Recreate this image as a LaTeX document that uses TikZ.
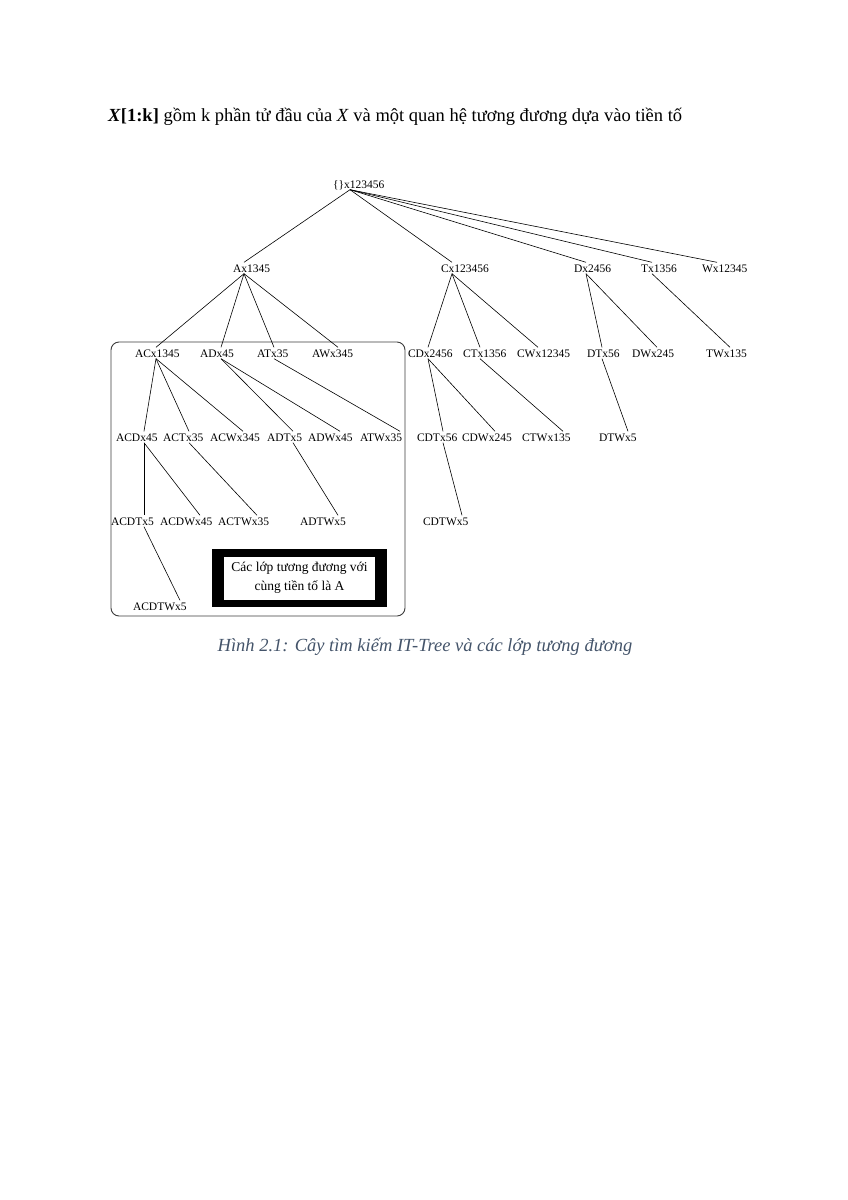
\documentclass[tikz,border=0pt]{standalone}
\usepackage{fontspec}
\setmainfont{Liberation Serif}
\definecolor{capblue}{RGB}{68,84,106}
\definecolor{framegray}{RGB}{60,60,60}
\newcommand\tlab[2]{\makebox[0pt][l]{\hspace*{-#1pt}#2}}
\tikzset{
  tn/.style={inner sep=0pt, text height=9.5pt, text depth=1.5pt, anchor=base,
    font=\fontsize{11.5}{13}\selectfont},
  edge/.style={draw=black, line width=0.6pt},
}
\begin{document}
\begin{tikzpicture}[x=1pt,y=-1pt]
\useasboundingbox[fill=white] (0,0) rectangle (848,1200);

% heading
\node[anchor=base west, inner sep=0pt, font=\fontsize{18.5}{21}\selectfont] (head) at (108,121)
  {\textbf{\textit{X}[1:k]} gồm k phần tử đầu của \textit{X} và một quan hệ tương đương dựa vào tiền tố};

% frame of class A
\draw[framegray, line width=0.9pt, rounded corners=8pt] (111,342) rectangle (405,616);

% root
\node[tn] (r) at (350,188) {\tlab{17}{\{\}x123456}};
% level 1
\node[tn] (A) at (244,272) {\tlab{11}{Ax1345}};
\node[tn] (C) at (452,272) {\tlab{11}{Cx123456}};
\node[tn] (D) at (586,272) {\tlab{12}{Dx2456}};
\node[tn] (T) at (652,272) {\tlab{11}{Tx1356}};
\node[tn] (W) at (717,272) {\tlab{15}{Wx12345}};
% level 2
\node[tn] (AC) at (156,357) {\tlab{21}{ACx1345}};
\node[tn] (AD) at (221,357) {\tlab{21}{ADx45}};
\node[tn] (AT) at (274,357) {\tlab{17}{ATx35}};
\node[tn] (AW) at (338,357) {\tlab{26}{AWx345}};
\node[tn] (CD) at (428,357) {\tlab{20}{CDx2456}};
\node[tn] (CT) at (480,357) {\tlab{17}{CTx1356}};
\node[tn] (CW) at (538,357) {\tlab{21}{CWx12345}};
\node[tn] (DT) at (602,357) {\tlab{15}{DTx56}};
\node[tn] (DW) at (657,357) {\tlab{25}{DWx245}};
\node[tn] (TW) at (730,357) {\tlab{24}{TWx135}};
% level 3
\node[tn] (ACD) at (144,441) {\tlab{28}{ACDx45}};
\node[tn] (ACT) at (189,441) {\tlab{26}{ACTx35}};
\node[tn] (ACW) at (243,441) {\tlab{33}{ACWx345}};
\node[tn] (ADT) at (293,441) {\tlab{26}{ADTx5}};
\node[tn] (ADW) at (340,441) {\tlab{32}{ADWx45}};
\node[tn] (ATW) at (400,441) {\tlab{40}{ATWx35}};
\node[tn] (CDT) at (443,441) {\tlab{26}{CDTx56}};
\node[tn] (CDW) at (495,441) {\tlab{33}{CDWx245}};
\node[tn] (CTW) at (563,441) {\tlab{41}{CTWx135}};
\node[tn] (DTW) at (628,441) {\tlab{29}{DTWx5}};
% level 4
\node[tn] (ACDT) at (144,525) {\tlab{33}{ACDTx5}};
\node[tn] (ACDW) at (200,525) {\tlab{40}{ACDWx45}};
\node[tn] (ACTW) at (257,525) {\tlab{39}{ACTWx35}};
\node[tn] (ADTW) at (338,525) {\tlab{38}{ADTWx5}};
\node[tn] (CDTW) at (462,525) {\tlab{39}{CDTWx5}};
% level 5
\node[tn] (ACDTW) at (180,610) {\tlab{47}{ACDTWx5}};

% edges
\foreach \p/\c in {r/A,r/C,r/D,r/T,r/W,
  A/AC,A/AD,A/AT,A/AW,C/CD,C/CT,C/CW,D/DT,D/DW,T/TW,
  AC/ACD,AC/ACT,AC/ACW,AD/ADT,AD/ADW,AT/ATW,CD/CDT,CD/CDW,CT/CTW,DT/DTW,
  ACD/ACDT,ACD/ACDW,ACT/ACTW,ADT/ADTW,CDT/CDTW,ACDT/ACDTW}
  \draw[edge] (\p.south) -- (\c.north);

% legend box
\node[fill=black, minimum width=175pt, minimum height=58pt, inner sep=0pt] (boxo) at (299.5,578) {};
\node[fill=white, minimum width=151pt, minimum height=43pt, inner sep=0pt, align=center,
  font=\fontsize{13.5}{19}\selectfont] (boxi) at (boxo.center) {Các lớp tương đương với\\cùng tiền tố là A};

% caption
\node[anchor=base, inner sep=0pt, text=capblue, font=\fontsize{18.5}{21}\selectfont\itshape] (cap) at (425,651)
  {Hình 2.1: Cây tìm kiếm IT-Tree và các lớp tương đương};
\end{tikzpicture}
\end{document}
